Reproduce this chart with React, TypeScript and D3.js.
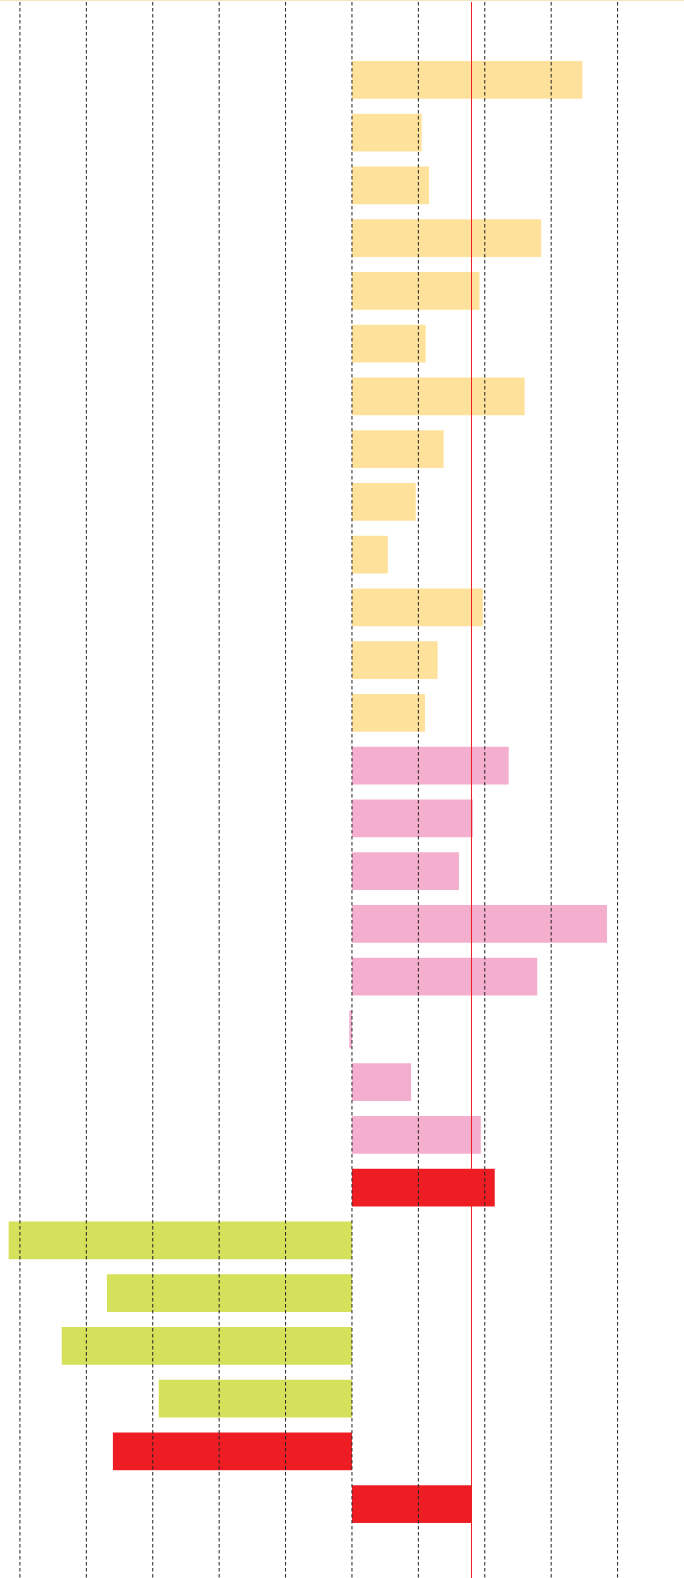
import React from "react";
import * as d3 from "d3";

const width = 684;
const height = 1578;

// one row per bar, top to bottom
const categories = [
  "y1", "y2", "y3", "y4", "y5", "y6", "y7", "y8", "y9", "y10", "y11", "y12", "y13",
  "p1", "p2", "p3", "p4", "p5", "p6", "p7", "p8",
  "r1",
  "g1", "g2", "g3", "g4",
  "r2", "r3",
];

const values = [
  3.47, 1.05, 1.16, 2.85, 1.92, 1.11, 2.6, 1.38, 0.96, 0.54, 1.97, 1.29, 1.1,
  2.36, 1.82, 1.61, 3.84, 2.79, -0.04, 0.89, 1.94,
  2.15,
  -5.17, -3.69, -4.37, -2.91,
  -3.6, 1.8,
];

const groups = [
  "a", "a", "a", "a", "a", "a", "a", "a", "a", "a", "a", "a", "a",
  "b", "b", "b", "b", "b", "b", "b", "b",
  "c",
  "d", "d", "d", "d",
  "c", "c",
];

const gridTicks = [-5, -4, -3, -2, -1, 0, 1, 2, 3, 4];
const refValue = 1.8;

const colors: Record<string, string> = {
  a: "#fee29b",
  b: "#f4aece",
  c: "#ee1d24",
  d: "#d5e05b",
};

export default function App() {
  const x = d3.scaleLinear().domain([-5.3, 5]).range([0, width]);
  const y = d3
    .scaleBand<string>()
    .domain(categories)
    .range([0, 1584])
    .paddingInner(0.285)
    .paddingOuter(1.157);

  return (
    <svg
      width={width}
      height={height}
      style={{ position: "absolute", left: 0, top: 0, background: "#fff" }}
    >
      <line x1={0} x2={width} y1={0.5} y2={0.5} stroke="#f3e6c2" strokeWidth={1} />
      {categories.map((c, i) => {
        const v = values[i];
        return (
          <rect
            key={c}
            x={x(Math.min(0, v))}
            y={y(c)}
            width={Math.abs(x(v) - x(0))}
            height={y.bandwidth()}
            fill={colors[groups[i]]}
          />
        );
      })}
      {gridTicks.map((t) => (
        <line
          key={t}
          x1={x(t)}
          x2={x(t)}
          y1={2}
          y2={height}
          stroke="#222"
          strokeWidth={1}
          strokeDasharray="3.5,2.5"
        />
      ))}
      <line
        x1={x(refValue)}
        x2={x(refValue)}
        y1={2}
        y2={height}
        stroke="#ee1d24"
        strokeWidth={1}
      />
    </svg>
  );
}
